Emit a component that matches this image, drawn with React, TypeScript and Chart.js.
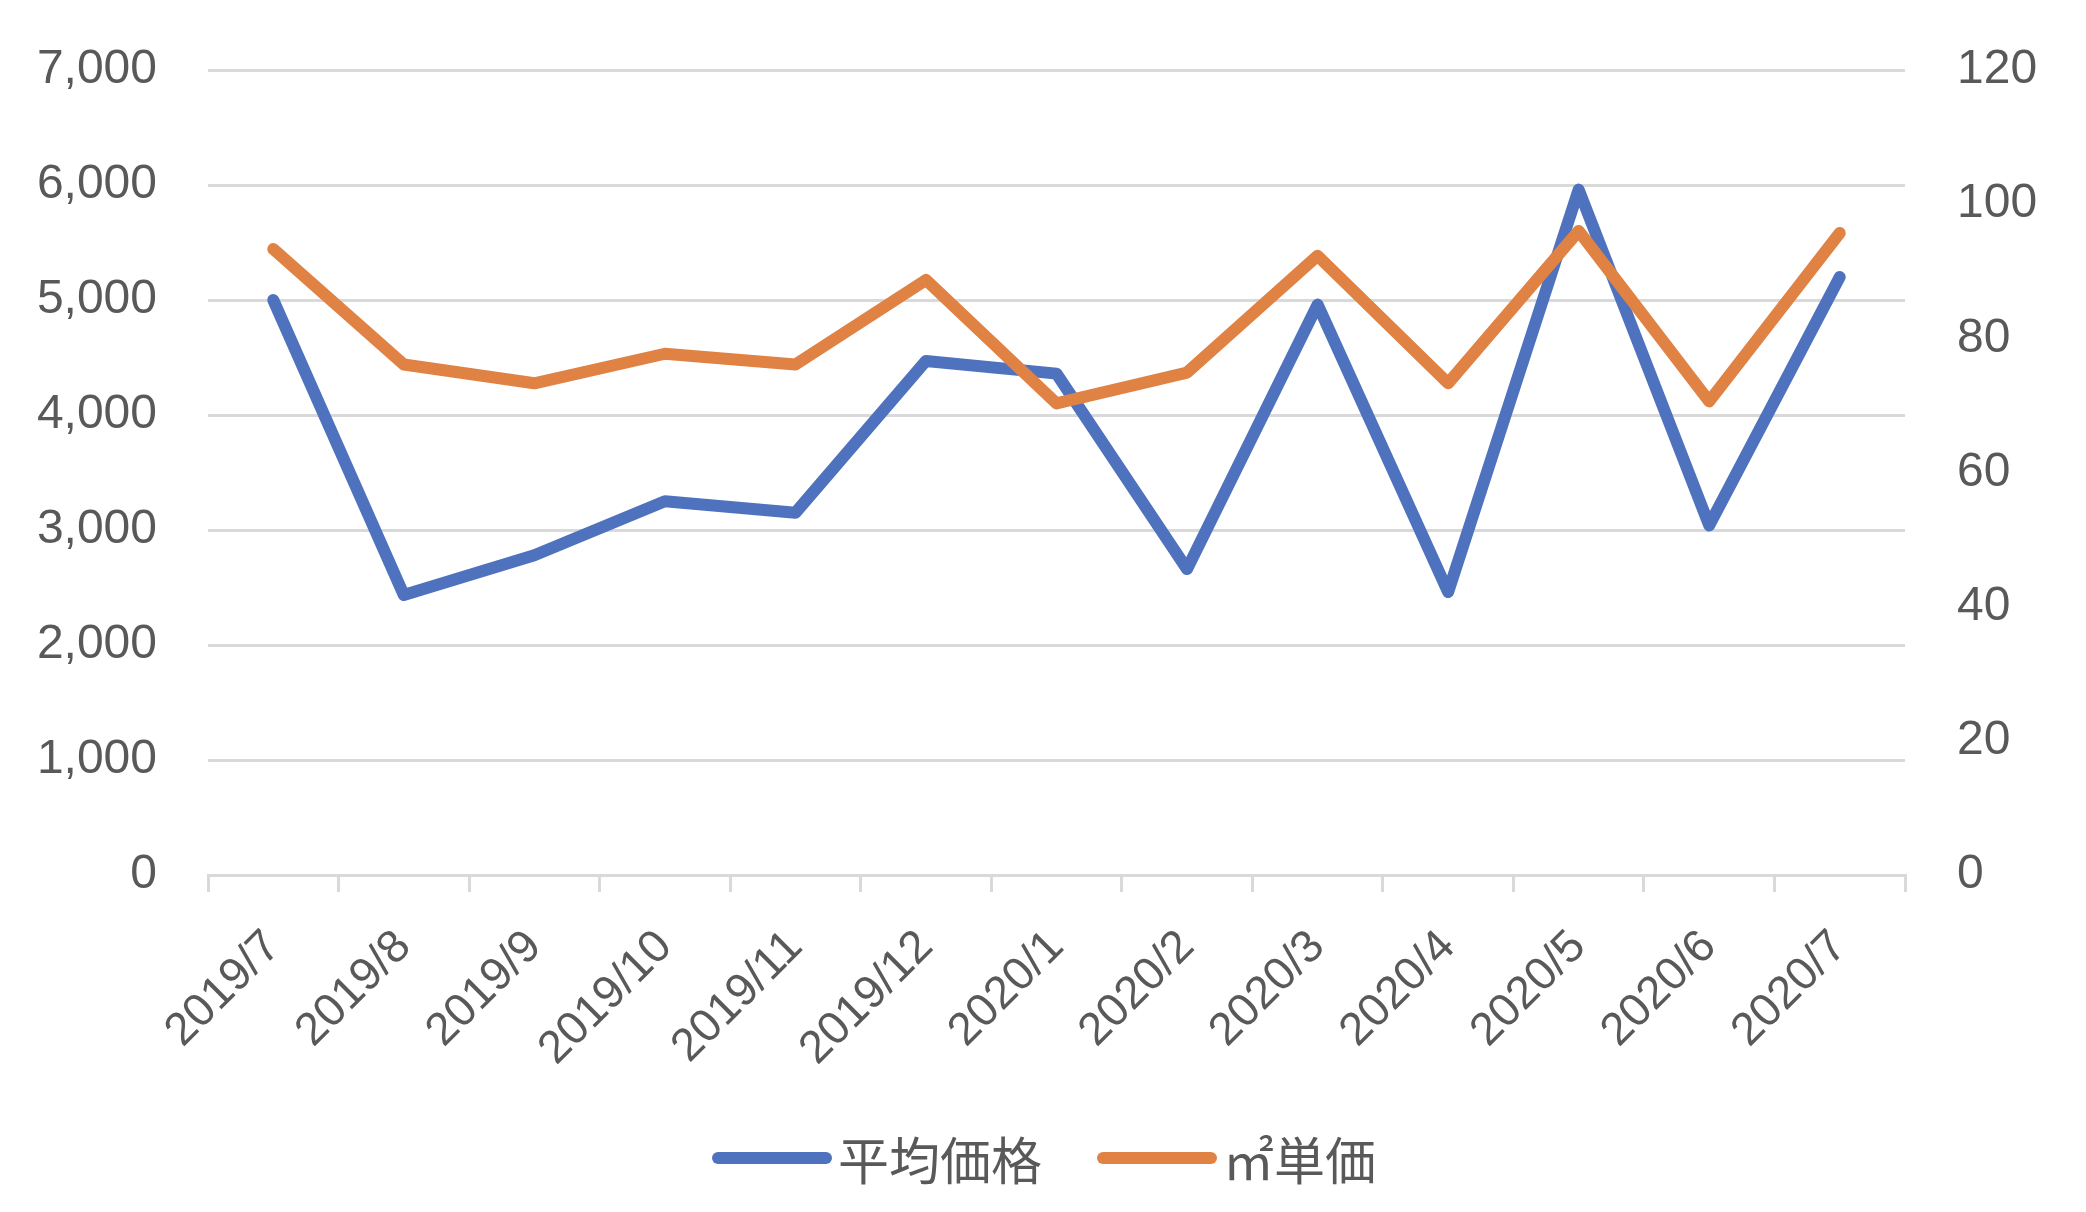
import React, { useEffect, useRef } from 'react';
import { Chart, registerables } from 'chart.js';

Chart.register(...registerables);

const categories = [
  '2019/7', '2019/8', '2019/9', '2019/10', '2019/11', '2019/12',
  '2020/1', '2020/2', '2020/3', '2020/4', '2020/5', '2020/6', '2020/7',
];
const avgPrice = [5000, 2435, 2780, 3250, 3150, 4470, 4360, 2660, 4960, 2460, 5960, 3040, 5200];
const unitPrice = [93.3, 76.1, 73.3, 77.7, 76.1, 88.7, 70.3, 74.9, 92.3, 73.3, 96.0, 70.6, 95.7];
const seriesNames = ['平均価格', '㎡単価'];
const leftTickValues = [0, 1000, 2000, 3000, 4000, 5000, 6000, 7000];
const rightTickValues = [0, 20, 40, 60, 80, 100, 120];

const BLUE = '#4F72BE';
const ORANGE = '#E08244';
const GRID = '#D9D9D9';
const TEXT = '#595959';
const seriesColors = [BLUE, ORANGE];
const FONT = "'Liberation Sans', Arial, sans-serif";

export default function App() {
  const canvasRef = useRef<HTMLCanvasElement | null>(null);

  useEffect(() => {
    const canvas = canvasRef.current;
    if (!canvas) return;
    const chart = new Chart(canvas, {
      type: 'line',
      data: {
        labels: categories,
        datasets: [
          {
            label: seriesNames[0],
            data: avgPrice,
            yAxisID: 'y',
            borderColor: BLUE,
            backgroundColor: BLUE,
            borderWidth: 12,
            pointRadius: 0,
            pointHoverRadius: 0,
            borderCapStyle: 'round',
            borderJoinStyle: 'round',
            tension: 0,
            order: 1,
          },
          {
            label: seriesNames[1],
            data: unitPrice,
            yAxisID: 'y1',
            borderColor: ORANGE,
            backgroundColor: ORANGE,
            borderWidth: 12,
            pointRadius: 0,
            pointHoverRadius: 0,
            borderCapStyle: 'round',
            borderJoinStyle: 'round',
            tension: 0,
            order: 0,
          },
        ],
      },
      options: {
        responsive: false,
        animation: false,
        events: [],
        layout: { padding: { top: 70, left: 0, right: 0, bottom: 0 } },
        plugins: {
          legend: { display: false },
          tooltip: { enabled: false },
          title: { display: false },
        },
        scales: {
          x: {
            type: 'category',
            offset: true,
            grid: {
              display: true,
              drawOnChartArea: false,
              drawTicks: true,
              tickLength: 17,
              offset: true,
              color: GRID,
              lineWidth: 3,
            },
            border: { display: true, color: GRID, width: 3 },
            ticks: {
              autoSkip: false,
              maxRotation: 45,
              minRotation: 45,
              padding: 28,
              color: TEXT,
              font: { family: FONT, size: 46 },
            },
            afterFit: (s: any) => {
              s.height = 337;
            },
          },
          y: {
            position: 'left',
            min: leftTickValues[0],
            max: leftTickValues[leftTickValues.length - 1],
            grid: {
              color: GRID,
              lineWidth: 3,
              drawTicks: true,
              tickLength: 51,
              tickColor: 'rgba(0,0,0,0)',
            },
            border: { display: false },
            ticks: {
              stepSize: leftTickValues[1] - leftTickValues[0],
              padding: 0,
              color: TEXT,
              font: { family: FONT, size: 48 },
              callback: (v: any) => Number(v).toLocaleString('en-US'),
            },
            afterFit: (s: any) => {
              s.width = 208;
            },
          },
          y1: {
            position: 'right',
            min: rightTickValues[0],
            max: rightTickValues[rightTickValues.length - 1],
            grid: {
              display: true,
              drawOnChartArea: false,
              drawTicks: true,
              tickLength: 52,
              tickColor: 'rgba(0,0,0,0)',
            },
            border: { display: false },
            ticks: {
              stepSize: rightTickValues[1] - rightTickValues[0],
              padding: 0,
              color: TEXT,
              font: { family: FONT, size: 48 },
            },
            afterFit: (s: any) => {
              s.width = 181;
            },
          },
        },
      },
    } as any);
    return () => {
      chart.destroy();
    };
  }, []);

  return (
    <div style={{ position: 'absolute', left: 0, top: 0, width: 2086, height: 1212, background: '#ffffff', overflow: 'hidden' }}>
      <canvas ref={canvasRef} width={2086} height={1212} style={{ display: 'block', width: 2086, height: 1212 }} />
      {seriesNames.map((name, i) => (
        <div
          key={name}
          style={{
            position: 'absolute',
            left: i === 0 ? 712 : 1097,
            top: 1128,
            height: 60,
            display: 'flex',
            alignItems: 'center',
          }}
        >
          <span
            style={{
              display: 'inline-block',
              width: 120,
              height: 12,
              borderRadius: 6,
              background: seriesColors[i],
            }}
          />
          <span
            style={{
              display: 'inline-block',
              marginLeft: 6,
              fontFamily: "'Noto Sans CJK JP', sans-serif",
              fontSize: 51,
              lineHeight: 1,
              color: TEXT,
              whiteSpace: 'nowrap',
            }}
          >
            {name}
          </span>
        </div>
      ))}
    </div>
  );
}
